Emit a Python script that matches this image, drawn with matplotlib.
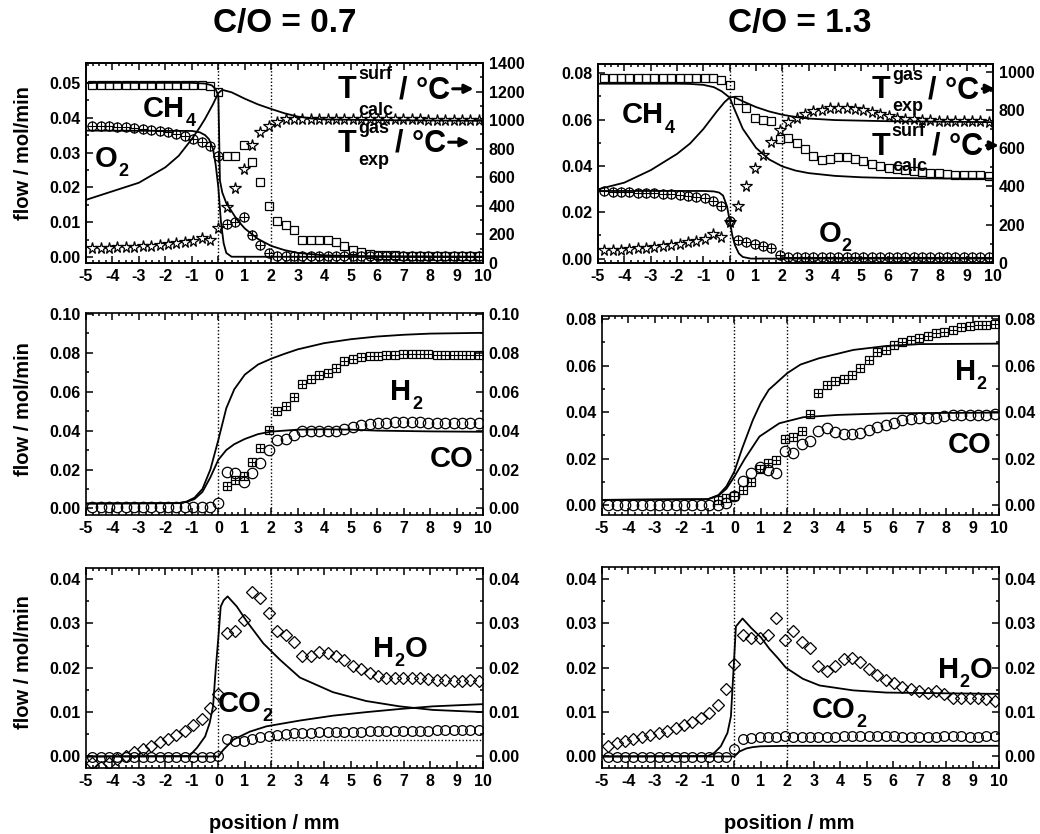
import numpy as np
import matplotlib
matplotlib.use('Agg')
import matplotlib.pyplot as plt
from matplotlib.ticker import MultipleLocator, FormatStrFormatter
from matplotlib.text import OffsetFrom

plt.rcParams['font.family'] = ['Liberation Sans', 'DejaVu Sans']
plt.rcParams['font.weight'] = 'bold'
plt.rcParams['axes.unicode_minus'] = False
plt.rcParams['axes.linewidth'] = 1.2
plt.rcParams['xtick.labelsize'] = 11.5
plt.rcParams['ytick.labelsize'] = 11.5

# measurement grid (capillary steps), mm
pos = np.arange(-15, 32) * 0.3175

# ---------- C/O = 0.7, top: CH4, O2, temperatures ----------
ch4_07 = [0.0495, 0.0495, 0.0494, 0.0495, 0.0495, 0.0494, 0.0494, 0.0495, 0.0495, 0.0494,
          0.0494, 0.0495, 0.0495, 0.0494, 0.0490, 0.0474,
          0.0290, 0.0290, 0.0323, 0.0272, 0.0215, 0.0146, 0.0103, 0.0092, 0.0078, 0.0050,
          0.0050, 0.0050, 0.0050, 0.0042, 0.0031, 0.0021, 0.0014, 0.0009, 0.0006, 0.0005,
          0.0005, 0.0004, 0.0004, 0.0004, 0.0004, 0.0004, 0.0004, 0.0004, 0.0004, 0.0004, 0.0004]
o2_07 = [0.0377, 0.0376, 0.0375, 0.0374, 0.0372, 0.0371, 0.0369, 0.0366, 0.0362, 0.0359,
         0.0354, 0.0348, 0.0338, 0.0330, 0.0318, 0.0289,
         0.0095, 0.0100, 0.0116, 0.0064, 0.0034, 0.0011, 0.0004, 0.0004, 0.0004, 0.0004,
         0.0004, 0.0004, 0.0004, 0.0004, 0.0004, 0.0004, 0.0004, 0.0004, 0.0004, 0.0004,
         0.0004, 0.0004, 0.0004, 0.0004, 0.0004, 0.0004, 0.0004, 0.0004, 0.0004, 0.0004, 0.0004]
tgas_07 = [105, 107, 108, 110, 112, 115, 118, 121, 125, 130, 137, 145, 155, 172, 162, 245,
           395, 525, 660, 828, 915, 960, 990, 1005, 1010, 1010, 1010, 1010, 1010, 1010, 1010,
           1008, 1008, 1008, 1007, 1007, 1006, 1006, 1005, 1005, 1004, 1004, 1003, 1003, 1002,
           1002, 1001]
ch4m_x07 = [-5, -1, -0.5, -0.25, -0.1, 0, 0.03, 0.06, 0.15, 0.3, 0.7, 1.0, 1.5, 2.0, 2.5, 3.0,
            4.0, 5.0, 10]
ch4m_07 = [0.0500, 0.0500, 0.0498, 0.0493, 0.0482, 0.0462, 0.0350, 0.0220, 0.0185, 0.0155,
           0.0108, 0.0082, 0.0052, 0.0032, 0.0020, 0.0012, 0.0005, 0.0003, 0.0001]
o2m_x07 = [-5, -1, -0.7, -0.5, -0.35, -0.2, -0.1, 0, 0.1, 0.2, 0.3, 0.5, 10]
o2m_07 = [0.0363, 0.0362, 0.0358, 0.0350, 0.0338, 0.0310, 0.0265, 0.0200, 0.0100, 0.0040,
          0.0012, 0.0001, 0.0]
tsurf_x07 = [-5, -4, -3, -2, -1.5, -1, -0.7, -0.5, -0.2, 0, 0.15, 0.5, 1, 1.5, 2, 2.5, 3, 3.5,
             4, 6, 10]
tsurf_07 = [442, 502, 562, 670, 750, 868, 950, 1010, 1112, 1190, 1212, 1195, 1150, 1110, 1078,
            1048, 1025, 1012, 1005, 1000, 995]

# ---------- C/O = 1.3, top ----------
ch4_13 = [0.0780, 0.0780, 0.0779, 0.0779, 0.0778, 0.0778, 0.0778, 0.0779, 0.0779, 0.0778,
          0.0778, 0.0779, 0.0779, 0.0778, 0.0770, 0.0750,
          0.0685, 0.0650, 0.0607, 0.0598, 0.0595, 0.0515, 0.0520, 0.0500, 0.0472, 0.0444,
          0.0427, 0.0432, 0.0438, 0.0440, 0.0432, 0.0420, 0.0407, 0.0399, 0.0390, 0.0385,
          0.0381, 0.0377, 0.0374, 0.0371, 0.0368, 0.0365, 0.0362, 0.0360, 0.0359, 0.0359, 0.0358]
o2_13 = [0.0290, 0.0289, 0.0288, 0.0287, 0.0285, 0.0284, 0.0282, 0.0280, 0.0278, 0.0275,
         0.0272, 0.0268, 0.0262, 0.0250, 0.0228, 0.0162,
         0.0080, 0.0072, 0.0064, 0.0056, 0.0044, 0.0015, 0.0008, 0.0005, 0.0005, 0.0005,
         0.0005, 0.0005, 0.0005, 0.0005, 0.0005, 0.0005, 0.0005, 0.0005, 0.0005, 0.0005,
         0.0005, 0.0005, 0.0005, 0.0005, 0.0005, 0.0005, 0.0005, 0.0005, 0.0005, 0.0005, 0.0005]
tgas_13 = [66, 68, 70, 72, 76, 80, 84, 90, 95, 101, 108, 115, 125, 150, 138, 215,
           300, 400, 495, 565, 634, 695, 735, 760, 778, 794, 800, 808, 810, 810, 805, 797,
           788, 778, 768, 760, 755, 750, 747, 745, 743, 742, 741, 740, 740, 740, 739]
ch4m_x13 = [-5, -2, -1.5, -1, -0.6, -0.3, 0, 0.2, 0.5, 1.0, 1.5, 2.0, 2.5, 3, 4, 5, 6, 8, 10]
ch4m_13 = [0.0755, 0.0755, 0.0754, 0.0750, 0.0740, 0.0722, 0.0695, 0.0640, 0.0560, 0.0478,
           0.0428, 0.0398, 0.0380, 0.0369, 0.0357, 0.0351, 0.0348, 0.0346, 0.0345]
o2m_x13 = [-5, -1, -0.6, -0.4, -0.25, -0.1, 0, 0.1, 0.2, 0.35, 0.5, 0.8, 10]
o2m_13 = [0.0292, 0.0292, 0.0290, 0.0285, 0.0272, 0.0225, 0.0165, 0.0100, 0.0058, 0.0022,
          0.0007, 0.0, 0.0]
tsurf_x13 = [-5, -4, -3, -2, -1.5, -1, -0.5, -0.2, 0, 0.15, 0.5, 1, 1.5, 2, 2.5, 3, 4, 6, 10]
tsurf_13 = [385, 420, 485, 570, 625, 700, 790, 840, 865, 868, 845, 815, 792, 775, 763, 755,
            747, 741, 736]

# ---------- middle: H2, CO ----------
h2_07 = [0.0115, 0.0146, 0.0165, 0.0240, 0.0313, 0.0404, 0.0500, 0.0527, 0.0572, 0.0640,
         0.0665, 0.0684, 0.0696, 0.0722, 0.0760, 0.0770, 0.0778, 0.0782, 0.0785, 0.0787,
         0.0790, 0.0792, 0.0795, 0.0796, 0.0795, 0.0790, 0.0788, 0.0788, 0.0788, 0.0788, 0.0788]
co_07 = [0.0005, 0.0005, 0.0005, 0.0005, 0.0005, 0.0005, 0.0005, 0.0005, 0.0005, 0.0005,
         0.0005, 0.0005, 0.0005, 0.0005, 0.0005, 0.0028,
         0.0189, 0.0180, 0.0137, 0.0184, 0.0232, 0.0300, 0.0350, 0.0357, 0.0376, 0.0400,
         0.0400, 0.0396, 0.0396, 0.0400, 0.0410, 0.0420, 0.0428, 0.0435, 0.0440, 0.0441,
         0.0442, 0.0442, 0.0442, 0.0442, 0.0441, 0.0441, 0.0441, 0.0440, 0.0440, 0.0440, 0.0440]
h2m_x07 = [-5, -1.5, -1.2, -0.9, -0.6, -0.3, 0, 0.3, 0.6, 1.0, 1.5, 2.0, 2.5, 3, 4, 5, 6, 7, 8, 10]
h2m_07 = [0.0025, 0.0027, 0.0035, 0.0055, 0.0100, 0.0200, 0.0352, 0.0515, 0.0612, 0.0688,
          0.0740, 0.0770, 0.0795, 0.0818, 0.0850, 0.0870, 0.0884, 0.0893, 0.0899, 0.0903]
com_x07 = [-5, -1.5, -1.2, -0.9, -0.6, -0.3, 0, 0.3, 0.6, 1.0, 1.5, 2.0, 3, 4, 5, 6, 8, 10]
com_07 = [0.0025, 0.0027, 0.0033, 0.0048, 0.0085, 0.0160, 0.0250, 0.0300, 0.0330, 0.0357,
          0.0382, 0.0395, 0.0405, 0.0407, 0.0405, 0.0400, 0.0396, 0.0394]

h2_13 = [0.0020, 0.0029, 0.0040,
         0.0065, 0.0101, 0.0155, 0.0180, 0.0195, 0.0285, 0.0295, 0.0317, 0.0392, 0.0482,
         0.0518, 0.0532, 0.0542, 0.0560, 0.0592, 0.0625, 0.0657, 0.0668, 0.0690, 0.0704,
         0.0711, 0.0721, 0.0728, 0.0740, 0.0747, 0.0754, 0.0768, 0.0772, 0.0775, 0.0775, 0.0779]
co_13 = [0.0000, 0.0000, 0.0000, 0.0000, 0.0000, 0.0000, 0.0000, 0.0000, 0.0000, 0.0000,
         0.0000, 0.0000, 0.0000, 0.0002, 0.0010, 0.0039,
         0.0105, 0.0139, 0.0162, 0.0151, 0.0137, 0.0234, 0.0223, 0.0263, 0.0277, 0.0320,
         0.0330, 0.0316, 0.0306, 0.0306, 0.0309, 0.0323, 0.0338, 0.0345, 0.0355, 0.0366,
         0.0370, 0.0374, 0.0374, 0.0376, 0.0384, 0.0388, 0.0388, 0.0388, 0.0388, 0.0388, 0.0392]
h2m_x13 = [-5, -1.0, -0.6, -0.3, 0, 0.3, 0.7, 1.0, 1.3, 2.0, 2.5, 3.2, 4.5, 5.75, 7, 10]
h2m_13 = [0.0022, 0.0025, 0.0043, 0.0080, 0.0144, 0.0245, 0.0366, 0.0440, 0.0496, 0.0568,
          0.0605, 0.0632, 0.0668, 0.0685, 0.0693, 0.0695]
com_x13 = [-5, -1.0, -0.6, -0.3, 0, 0.4, 0.95, 1.7, 2.6, 3.9, 5.75, 10]
com_13 = [0.0022, 0.0025, 0.0040, 0.0070, 0.0122, 0.0200, 0.0295, 0.0352, 0.0378, 0.0388,
          0.0395, 0.0398]

# ---------- bottom: H2O, CO2 ----------
h2o_07 = [-0.0015, -0.0023, -0.0015, -0.0006, 0.0002, 0.0009, 0.0017, 0.0024, 0.0032, 0.0039,
          0.0049, 0.0058, 0.0071, 0.0084, 0.0109, 0.0141,
          0.0278, 0.0284, 0.0307, 0.0370, 0.0357, 0.0323, 0.0284, 0.0274, 0.0259, 0.0227,
          0.0226, 0.0235, 0.0233, 0.0227, 0.0218, 0.0205, 0.0197, 0.0189, 0.0182, 0.0177,
          0.0177, 0.0178, 0.0177, 0.0178, 0.0175, 0.0173, 0.0173, 0.0171, 0.0171, 0.0173, 0.0171]
co2_07 = [-0.0002, -0.0002, -0.0002, -0.0002, -0.0002, -0.0002, -0.0002, -0.0002, -0.0002,
          -0.0002, -0.0002, -0.0002, -0.0002, -0.0002, -0.0002, 0.0002,
          0.0039, 0.0036, 0.0034, 0.0039, 0.0044, 0.0047, 0.0049, 0.0051, 0.0053, 0.0054,
          0.0054, 0.0055, 0.0055, 0.0055, 0.0056, 0.0056, 0.0056, 0.0057, 0.0057, 0.0057,
          0.0057, 0.0058, 0.0058, 0.0058, 0.0058, 0.0059, 0.0059, 0.0059, 0.0059, 0.0059, 0.0059]
h2om_x07 = [-5, -1.1, -0.8, -0.5, -0.33, -0.2, -0.1, 0.0, 0.09, 0.2, 0.35, 0.7, 1.07, 1.7, 2.33,
            3.08, 4.33, 5.59, 6.85, 8.1, 10]
h2om_07 = [0.0000, 0.0001, 0.0020, 0.0045, 0.0075, 0.0113, 0.0196, 0.0268, 0.0338, 0.0352,
           0.0361, 0.0338, 0.0305, 0.0255, 0.0218, 0.0178, 0.0145, 0.0125, 0.0113, 0.0105, 0.0100]
co2m_x07 = [-5, 0, 0.19, 0.57, 1.19, 1.82, 3.08, 4.33, 5.59, 6.85, 8.1, 10]
co2m_07 = [0.0000, 0.0000, 0.0015, 0.0038, 0.0056, 0.0068, 0.0081, 0.0092, 0.0100, 0.0107,
           0.0113, 0.0118]
co2_ref_07 = 0.0038   # dotted reference level right of x = 2

h2o_13 = [0.0023, 0.0030, 0.0035, 0.0039, 0.0043, 0.0049, 0.0053, 0.0058, 0.0064, 0.0070,
          0.0078, 0.0086, 0.0098, 0.0117, 0.0152, 0.0208,
          0.0273, 0.0267, 0.0266, 0.0273, 0.0312, 0.0263, 0.0282, 0.0259, 0.0244, 0.0203,
          0.0192, 0.0203, 0.0220, 0.0222, 0.0214, 0.0197, 0.0184, 0.0173, 0.0165, 0.0156,
          0.0152, 0.0147, 0.0144, 0.0147, 0.0141, 0.0132, 0.0132, 0.0132, 0.0132, 0.0129, 0.0124]
co2_13 = [-0.0002, -0.0002, -0.0002, -0.0002, -0.0002, -0.0002, -0.0002, -0.0002, -0.0002,
          -0.0002, -0.0002, -0.0002, -0.0002, -0.0002, -0.0002, 0.0017,
          0.0040, 0.0042, 0.0043, 0.0044, 0.0044, 0.0045, 0.0044, 0.0044, 0.0043, 0.0043,
          0.0044, 0.0044, 0.0045, 0.0045, 0.0045, 0.0046, 0.0046, 0.0045, 0.0045, 0.0044,
          0.0044, 0.0044, 0.0044, 0.0044, 0.0045, 0.0045, 0.0045, 0.0044, 0.0044, 0.0045, 0.0045]
h2om_x13 = [-5, -1.0, -0.76, -0.51, -0.26, -0.13, -0.03, 0.06, 0.31, 0.63, 1.01, 1.32, 1.64,
            1.95, 2.59, 3.22, 4.48, 5.74, 7.0, 10]
h2om_13 = [0.0000, 0.0001, 0.0008, 0.0023, 0.0053, 0.0090, 0.0196, 0.0293, 0.0311, 0.0290,
           0.0268, 0.0243, 0.0222, 0.0200, 0.0175, 0.0160, 0.0149, 0.0144, 0.0143, 0.0141]
co2m_x13 = [-5, 0, 0.19, 0.45, 0.69, 1.0, 2.0, 10]
co2m_13 = [0.0000, 0.0000, 0.0011, 0.0018, 0.0021, 0.0023, 0.0024, 0.0024]

W, H = 1040, 834
fig = plt.figure(figsize=(W / 100, H / 100), dpi=100)


def panel(left, top, right, bottom):
    # axes box given in pixels of the figure
    return fig.add_axes([left / W, 1 - bottom / H, (right - left) / W, (bottom - top) / H])


def style(ax, ylim, major, minor, both_sides=True):
    ax.set_xlim(-5, 10)
    ax.set_ylim(*ylim)
    ax.xaxis.set_major_locator(MultipleLocator(1))
    ax.xaxis.set_minor_locator(MultipleLocator(0.25))
    ax.yaxis.set_major_locator(MultipleLocator(major))
    ax.yaxis.set_minor_locator(MultipleLocator(minor))
    ax.yaxis.set_major_formatter(FormatStrFormatter('%.2f'))
    ax.tick_params(which='both', direction='in', top=True, width=1.1,
                   right=both_sides, labelright=both_sides)
    ax.tick_params(which='major', length=5, pad=4)
    ax.tick_params(which='minor', length=2.5)
    for xv in (0, 2):
        ax.axvline(xv, color='black', ls=(0, (1, 1.5)), lw=1)


def temp_axis(ax, top):
    tx = ax.twinx()
    tx.set_ylim(0, top)
    tx.yaxis.set_major_locator(MultipleLocator(200))
    tx.yaxis.set_minor_locator(MultipleLocator(100))
    tx.tick_params(which='both', direction='in', width=1.1)
    tx.tick_params(which='major', length=5, pad=4)
    tx.tick_params(which='minor', length=2.5)
    return tx


def model(ax, x, y):
    ax.plot(x, y, color='black', lw=1.3, zorder=2)


def points(ax, x, y, marker, ms, cross=False):
    ax.plot(x, y, ls='none', marker=marker, ms=ms, mfc='none', mec='black', mew=0.9, zorder=3)
    if cross:
        ax.plot(x, y, ls='none', marker='+', ms=ms, mec='black', mew=0.8, zorder=3)


def species(ax, x, y, main, sub, tail=None):
    t = ax.text(x, y, main, transform=ax.transAxes, fontsize=21, va='baseline', ha='left')
    s = ax.annotate(sub, xy=(1, 0), xycoords=t, xytext=(0.5, 7), textcoords='offset points',
                    fontsize=13, va='top', ha='left')
    if tail:
        ax.annotate(tail, xy=(1, 0), xycoords=(s, t), xytext=(0, 0), textcoords='offset points',
                    fontsize=21, va='bottom', ha='left')


def temp_label(ax, x, y, sup, sub, sup_dy, sub_dy, arrow_len, after_sup=True):
    t = ax.text(x, y, 'T', transform=ax.transAxes, fontsize=22, va='baseline', ha='left')
    s1 = ax.annotate(sup, xy=(1, 1), xycoords=t, xytext=(1, sup_dy), textcoords='offset points',
                     fontsize=13, va='top', ha='left')
    s2 = ax.annotate(sub, xy=(1, 0), xycoords=t, xytext=(1, sub_dy), textcoords='offset points',
                     fontsize=13, va='top', ha='left')
    tail = ax.annotate('/ °C', xy=(1, 0), xycoords=(s1 if after_sup else s2, t), xytext=(4, 0),
                       textcoords='offset points', fontsize=22, va='bottom', ha='left')
    # bold arrow pointing to the right axis
    ref = OffsetFrom(tail, (1, 0.55))
    ax.annotate('', xy=(arrow_len + 2, 0), xycoords=ref, xytext=(2, 0), textcoords=ref,
                arrowprops=dict(arrowstyle='-|>', color='black', lw=2.2, mutation_scale=13,
                                shrinkA=0, shrinkB=0))


# ---- top left: C/O = 0.7 ----
ax = panel(86, 63, 483, 263)
model(ax, ch4m_x07, ch4m_07)
model(ax, o2m_x07, o2m_07)
points(ax, pos, ch4_07, 's', 6)
points(ax, pos, o2_07, 'o', 6.5, cross=True)
style(ax, (-0.0017, 0.0557), 0.01, 0.005, both_sides=False)
tx = temp_axis(ax, 1400)
model(tx, tsurf_x07, tsurf_07)
points(tx, pos, tgas_07, '*', 8.5)
species(ax, 0.144, 0.73, 'CH', '4')
species(ax, 0.023, 0.48, 'O', '2')
temp_label(ax, 0.635, 0.8235, 'surf', 'calc', 6.5, 2.5, 15, after_sup=False)
temp_label(ax, 0.635, 0.5565, 'gas', 'exp', 6.0, 5.0, 15)

# ---- top right: C/O = 1.3 ----
ax = panel(598, 64, 993, 263)
model(ax, ch4m_x13, ch4m_13)
model(ax, o2m_x13, o2m_13)
points(ax, pos, ch4_13, 's', 6)
points(ax, pos, o2_13, 'o', 6.5, cross=True)
style(ax, (-0.0019, 0.084), 0.02, 0.01, both_sides=False)
tx = temp_axis(ax, 1040)
model(tx, tsurf_x13, tsurf_13)
points(tx, pos, tgas_13, '*', 8.5)
species(ax, 0.06, 0.702, 'CH', '4')
species(ax, 0.558, 0.107, 'O', '2')
temp_label(ax, 0.693, 0.828, 'gas', 'exp', 6.0, 5.0, 9)
temp_label(ax, 0.693, 0.543, 'surf', 'calc', 6.5, 2.5, 9, after_sup=False)

# ---- middle left ----
ax = panel(86, 313, 483, 515)
model(ax, h2m_x07, h2m_07)
model(ax, com_x07, com_07)
points(ax, pos[16:], h2_07, 's', 6, cross=True)
points(ax, pos, co_07, 'o', 7.5)
style(ax, (-0.0034, 0.1005), 0.02, 0.01)
species(ax, 0.766, 0.569, 'H', '2')
ax.text(0.866, 0.239, 'CO', transform=ax.transAxes, fontsize=21, va='baseline', ha='left')

# ---- middle right ----
ax = panel(602, 316, 999, 515)
model(ax, h2m_x13, h2m_13)
model(ax, com_x13, com_13)
points(ax, pos[13:], h2_13, 's', 6, cross=True)
points(ax, pos, co_13, 'o', 7.5)
style(ax, (-0.0043, 0.0814), 0.02, 0.01)
species(ax, 0.889, 0.678, 'H', '2')
ax.text(0.872, 0.31, 'CO', transform=ax.transAxes, fontsize=21, va='baseline', ha='left')

# ---- bottom left ----
ax = panel(86, 568, 483, 768)
model(ax, h2om_x07, h2om_07)
model(ax, co2m_x07, co2m_07)
ax.hlines(co2_ref_07, 2, 10, colors='black', linestyles=(0, (1, 1.5)), lw=1)
points(ax, pos, h2o_07, 'D', 6)
points(ax, pos, co2_07, 'o', 7)
style(ax, (-0.0026, 0.0425), 0.01, 0.005)
species(ax, 0.723, 0.5565, 'H', '2', 'O')
species(ax, 0.3325, 0.2815, 'CO', '2')

# ---- bottom right ----
ax = panel(602, 567, 999, 768)
model(ax, h2om_x13, h2om_13)
model(ax, co2m_x13, co2m_13)
points(ax, pos, h2o_13, 'D', 6)
points(ax, pos, co2_13, 'o', 7)
style(ax, (-0.0026, 0.0427), 0.01, 0.005)
species(ax, 0.846, 0.448, 'H', '2', 'O')
species(ax, 0.528, 0.249, 'CO', '2')

# titles and axis labels
fig.text(285 / W, 1 - 32 / H, 'C/O = 0.7', ha='center', va='baseline', fontsize=24)
fig.text(800 / W, 1 - 32 / H, 'C/O = 1.3', ha='center', va='baseline', fontsize=24)
for yc in (153, 409, 662):
    fig.text(23.5 / W, 1 - yc / H, 'flow / mol/min', rotation=90, ha='center', va='center',
             fontsize=14.5)
fig.text(274 / W, 1 - 829 / H, 'position / mm', ha='center', va='baseline', fontsize=14.5)
fig.text(789 / W, 1 - 829 / H, 'position / mm', ha='center', va='baseline', fontsize=14.5)

fig.savefig('out.png', dpi=100)
